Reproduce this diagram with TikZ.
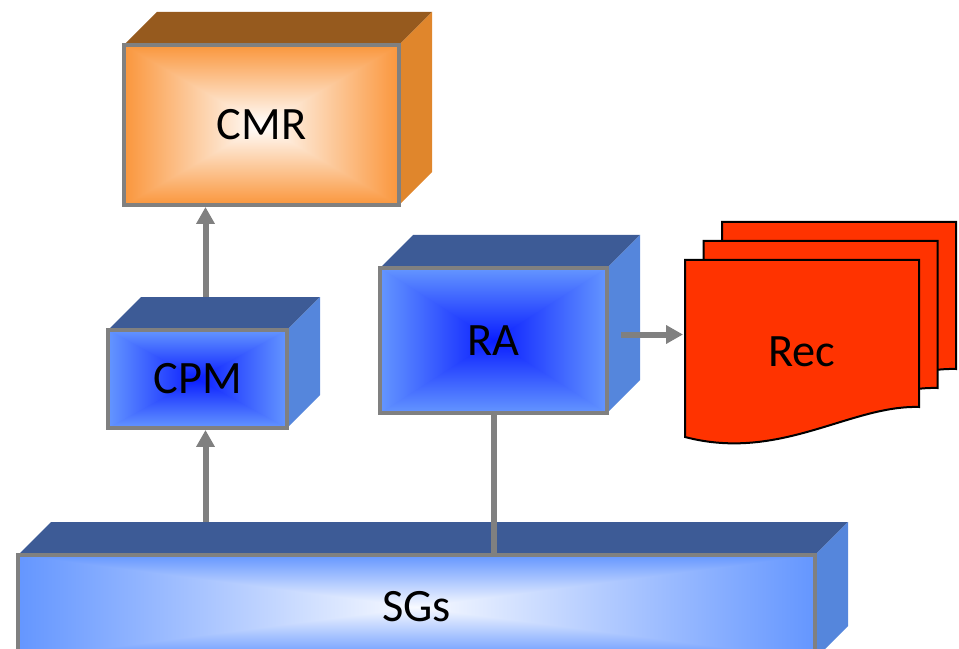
\documentclass[tikz,border=0pt]{standalone}
\usepackage{xcolor}
\usepackage{fontspec}
\setmainfont{Carlito}
\usepackage{tikz}
\usetikzlibrary{positioning, shapes, arrows, arrows.meta, calc}

\definecolor{bluetop}{RGB}{61,91,150}
\definecolor{blueside}{RGB}{85,134,220}
\definecolor{blueedge}{RGB}{100,150,255}
\definecolor{bluecenter}{RGB}{10,30,255}
\definecolor{orgtop}{RGB}{150,90,30}
\definecolor{orgside}{RGB}{224,134,44}
\definecolor{orgedge}{RGB}{250,150,60}
\definecolor{orgcenter}{RGB}{255,255,255}
\definecolor{sgtop}{RGB}{61,91,150}
\definecolor{sgside}{RGB}{85,134,220}
\definecolor{sgedge}{RGB}{100,150,255}
\definecolor{sgcenter}{RGB}{248,250,255}
\definecolor{linegray}{RGB}{128,128,128}
\definecolor{recred}{RGB}{255,51,0}

\tikzset{
  faceline/.style={draw=linegray, line width=0.09cm},
  boxtext/.style={inner sep=0pt, outer sep=0pt, font=\fontsize{33}{40}\selectfont},
  link/.style={draw=linegray, line width=0.15cm},
  tip/.style={-{Triangle[width=0.44cm,length=0.42cm]}},
  page/.style={draw=black, line width=0.05cm, fill=recred},
}

% name, x1, y1, x2, y2, colour family, text
\newcommand\cuboid[7]{%
  \fill[#6top] (#2,#3) -- ++(33,-33) -- ({#4+33},{#3-33}) -- (#4,#3) -- cycle;
  \fill[#6side] (#4,#3) -- ({#4+33},{#3-33}) -- ({#4+33},{#5-33}) -- (#4,#5) -- cycle;
  \coordinate (#1 c) at ({(#2+#4)/2},{(#3+#5)/2});
  \coordinate (#1 back) at ({#2+33},{#3-33});
  \shade[top color=#6edge, bottom color=#6edge, middle color=#6center] (#2,#3) rectangle (#4,#5);
  \shade[left color=#6edge, right color=#6center] (#2,#3) -- (#2,#5) -- (#1 c) -- cycle;
  \shade[left color=#6center, right color=#6edge] (#4,#3) -- (#4,#5) -- (#1 c) -- cycle;
  \draw[faceline] (#2,#3) rectangle (#4,#5);
  \node[boxtext, minimum width={(#4-#2)*0.025cm}, minimum height={(#5-#3)*0.025cm}] (#1) at (#1 c) {#7};
}

\begin{document}
\begin{tikzpicture}[x=0.025cm, y=-0.025cm]
  \useasboundingbox (0,0) rectangle (959,649);
  \clip (0,0) rectangle (959,649);

  \cuboid{cmr}{124}{45}{399}{205}{org}{CMR}
  \cuboid{cpm}{108}{330}{287}{428}{blue}{CPM}
  \cuboid{ra}{380}{268}{607}{413}{blue}{RA}
  \cuboid{sgs}{18}{555}{815}{659}{sg}{SGs}

  % stacked records
  \foreach \dx/\dy in {37/-38, 18.5/-19, 0/0} {
    \draw[page, shift={(\dx,\dy)}] (685,260) -- (919,260) -- (919,407)
      .. controls (850,405) and (780,462) .. (685,437) -- cycle;
  }
  \coordinate (page nw) at (685,260);
  \node[boxtext] (rec) at (802,352) {Rec};

  \draw[link, tip] ($(cpm.south |- sgs back)+(8,0)$) -- ($(cpm.south)+(8,2)$);
  \draw[link, tip] ($(cpm.north |- cpm back)+(8,0)$) -- ($(cpm.north |- cmr.south)+(8,2)$);
  \draw[link] (ra.south) -- (ra.south |- sgs.north);
  \coordinate (ra out) at ($(ra.east)+(14,-6)$);
  \draw[link, tip] (ra out) -- ($(ra out -| page nw)+(-2,0)$);
\end{tikzpicture}
\end{document}
